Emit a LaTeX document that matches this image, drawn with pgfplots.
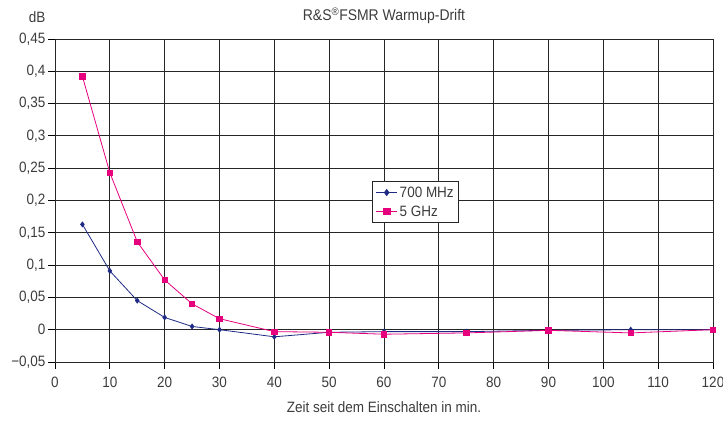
\documentclass[border=0pt]{standalone}
\usepackage{fontspec}
\setmainfont{Liberation Sans}[FakeStretch=0.9]
\usepackage{pgfplots}
\pgfplotsset{compat=1.18}
\definecolor{navy}{HTML}{1F2A85}
\definecolor{magenta}{HTML}{E6007E}
\definecolor{txt}{HTML}{3C3C3C}
\begin{document}
\begin{tikzpicture}
	\begin{axis}[
	at={(0,0)}, anchor=south west,
	scale only axis,
	width=658pt, height=323pt,
	xmin=0, xmax=120,
	ymin=-0.05, ymax=0.45,
	xtick={0,10,...,120},
	ytick={-0.05,0,0.05,0.1,0.15,0.2,0.25,0.3,0.35,0.4,0.45},
	yticklabels={{−0,05},{0},{0,05},{0,1},{0,15},{0,2},{0,25},{0,3},{0,35},{0,4},{0,45}},
	/pgf/number format/assume math mode=true,
	tick label style={font=\fontsize{15}{17}\selectfont, text=txt},
	xticklabel style={yshift=-4pt},
	yticklabel style={xshift=1pt},
	tick align=outside,
	major tick length=7pt,
	tick style={black, line width=0.8pt},
	xtick pos=bottom, ytick pos=left,
	grid=major,
	major grid style={black!85, line width=0.8pt},
	axis line style={black!85, line width=0.9pt},
	xlabel={Zeit seit dem Einschalten in min.},
	xlabel style={font=\fontsize{15}{17}\selectfont, text=txt, yshift=-8pt},
	title={R\&S\textsuperscript{®}FSMR Warmup-Drift},
	title style={font=\fontsize{15.5}{17}\selectfont, text=txt, yshift=6pt},
	legend style={at={(0.482,0.560)}, anchor=north west, draw=black!85, line width=0.9pt,
		font=\fontsize{15}{17}\selectfont, text=txt, inner xsep=3pt, inner ysep=4pt,
		nodes={inner ysep=1pt}, row sep=5pt},
	legend image post style={scale=1.25},
	legend cell align=left,
	]
		\addplot [navy, line width=0.8pt, mark=diamond*, mark size=2.4pt, mark options={fill=navy}] table {
			x y
			5   0.163
			10  0.091
			15  0.045
			20  0.019
			25  0.005
			30  0.000
			40  -0.011
			50  -0.004
			60  -0.003
			75  -0.003
			90  -0.001
			105 0.000
			120 0.000
		};
		\addlegendentry{700 MHz}
		\addplot [magenta, line width=0.8pt, mark=square*, mark size=2.7pt, mark options={fill=magenta}] table {
			x y
			5   0.392
			10  0.243
			15  0.136
			20  0.077
			25  0.040
			30  0.017
			40  -0.003
			50  -0.004
			60  -0.007
			75  -0.005
			90  -0.001
			105 -0.005
			120 0.000
		};
		\addlegendentry{5 GHz}
	\end{axis}
	\node[anchor=base east, font=\fontsize{15}{17}\selectfont, text=txt] at (-6pt,339pt) {dB};
	\pgfresetboundingbox
	\path[use as bounding box] (-55pt,-65pt) rectangle (668pt,362pt);
\end{tikzpicture}
\end{document}
